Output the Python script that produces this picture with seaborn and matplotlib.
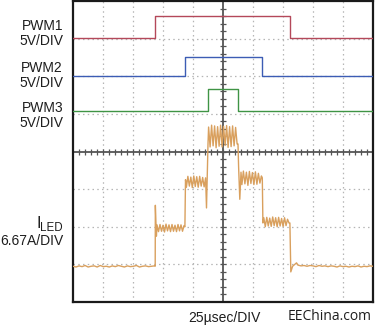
import numpy as np
import pandas as pd
import matplotlib
matplotlib.use("Agg")
import matplotlib.pyplot as plt
import seaborn as sns

# ---------------- data (in graticule divisions) ----------------
pwm1_t = [0.0, 2.74, 2.74, 7.23, 7.23, 10.0]
pwm1_v = [7.01, 7.01, 7.61, 7.61, 7.01, 7.01]
pwm2_t = [0.0, 3.73, 3.73, 6.31, 6.31, 10.0]
pwm2_v = [6.00, 6.00, 6.51, 6.51, 6.00, 6.00]
pwm3_t = [0.0, 4.49, 4.49, 5.49, 5.49, 10.0]
pwm3_v = [5.08, 5.08, 5.65, 5.65, 5.08, 5.08]

# I_LED: sampled segments (start, end, values) and edge points between them
iled_base_pre = [0.95, 0.93, 0.96, 0.94, 0.97, 0.93, 0.95, 0.96, 0.93, 0.97, 0.94, 0.95, 0.93, 0.96,
                 0.94, 0.97, 0.95, 0.93, 0.96, 0.94, 0.95, 0.97, 0.93, 0.95, 0.96, 0.94, 0.95, 0.96]
iled_step1 = [2.05, 1.87, 2.06, 1.88, 2.04, 1.86, 2.07, 1.89, 2.05, 1.87, 2.06, 1.88, 2.04, 1.87,
              2.06, 1.89, 2.05, 1.88, 2.03]
iled_step2 = [3.05, 3.34, 3.08, 3.32, 3.04, 3.35, 3.07, 3.33, 3.05, 3.34, 3.08, 3.31, 3.06, 3.30]
iled_top = [4.65, 4.12, 4.70, 4.15, 4.68, 4.10, 4.66, 4.14, 4.70, 4.12, 4.67, 4.16, 4.69, 4.11,
            4.66, 4.13, 4.68, 4.15, 4.64, 4.20]
iled_step3 = [3.12, 3.48, 3.14, 3.45, 3.10, 3.47, 3.15, 3.44, 3.12, 3.46, 3.13, 3.42, 3.16, 3.35]
iled_step4 = [2.24, 2.00, 2.25, 2.02, 2.23, 2.01, 2.26, 2.03, 2.24, 2.00, 2.25, 2.02, 2.22, 2.01,
              2.24, 2.03, 2.20, 2.10]
iled_base_post = [0.98, 0.96, 0.97, 0.95, 0.97, 0.96, 0.94, 0.97, 0.95, 0.96, 0.94, 0.96, 0.95,
                  0.93, 0.96, 0.94, 0.95, 0.93, 0.95, 0.94, 0.96, 0.93, 0.95, 0.94, 0.96, 0.95]
iled_spans = [(0.0, 2.72), (2.80, 3.70), (3.78, 4.42), (4.52, 5.47), (5.63, 6.28), (6.36, 7.20), (7.50, 10.0)]
iled_edges_t = [[2.74, 2.745, 2.78], [3.73, 3.75], [4.45, 4.50], [5.50, 5.52, 5.56, 5.60],
                [6.31, 6.33], [7.23, 7.26, 7.32, 7.45]]
iled_edges_v = [[0.95, 2.57, 1.75], [2.00, 3.25], [2.50, 4.20], [4.20, 3.60, 2.73, 3.45],
                [3.30, 2.10], [2.10, 0.80, 0.95, 1.04]]

labels = ["PWM1", "PWM2", "PWM3"]
div_labels = ["5V/DIV", "5V/DIV", "5V/DIV"]
iled_main, iled_sub = "I", "LED"
iled_label = "6.67A/DIV"
x_label = "25\u00b5sec/DIV"
credit = "EEChina.com"

# ---------------- build tables ----------------
segs = [iled_base_pre, iled_step1, iled_step2, iled_top, iled_step3, iled_step4, iled_base_post]
it, iv = [], []
for k, (seg, (t0, t1)) in enumerate(zip(segs, iled_spans)):
    it += list(np.linspace(t0, t1, len(seg)))
    iv += seg
    if k < len(iled_edges_t):
        it += iled_edges_t[k]
        iv += iled_edges_v[k]

frames = []
for name, t, v in [("PWM1", pwm1_t, pwm1_v), ("PWM2", pwm2_t, pwm2_v),
                   ("PWM3", pwm3_t, pwm3_v), ("ILED", it, iv)]:
    frames.append(pd.DataFrame({"t": t, "v": v, "trace": name}))
df = pd.concat(frames, ignore_index=True)

palette = {"PWM1": "#b4485a", "PWM2": "#3c5cb4", "PWM3": "#3f9445", "ILED": "#d9a05e"}

# ---------------- figure ----------------
sns.set_style("white")
plt.rcParams["font.family"] = ["Liberation Sans", "DejaVu Sans"]

W, H = 375, 329
fig = plt.figure(figsize=(W / 100, H / 100), dpi=100)
ax = fig.add_axes([73 / W, 27 / H, 300 / W, 301 / H])
ax.set_xlim(0, 10)
ax.set_ylim(0, 8)

grid_c = "#b5b5b5"
for x in range(1, 10):
    if x != 5:
        ax.axvline(x, color=grid_c, lw=0.9, ls=(0, (1.2, 2.6)), zorder=1)
for y in range(1, 8):
    if y != 4:
        ax.axhline(y, color=grid_c, lw=0.9, ls=(0, (1.2, 2.6)), zorder=1)
ax.axvline(5, color="#555555", lw=1.3, zorder=1)
ax.axhline(4, color="#555555", lw=1.3, zorder=1)
tx = np.arange(0.2, 10, 0.2)
ax.plot(tx, np.full_like(tx, 4.0), ls="none", marker="|", ms=4, mew=0.9, color="#555555", zorder=1)
ty = np.arange(0.2, 8, 0.2)
ax.plot(np.full_like(ty, 5.0), ty, ls="none", marker="_", ms=4, mew=0.9, color="#555555", zorder=1)

for name in ["PWM1", "PWM2", "PWM3", "ILED"]:
    sub = df[df.trace == name]
    sns.lineplot(data=sub, x="t", y="v", sort=False, estimator=None, color=palette[name],
                 lw=1.0, ax=ax, legend=False, zorder=3)

ax.set_xticks([])
ax.set_yticks([])
ax.set_xlabel("")
ax.set_ylabel("")
for s in ax.spines.values():
    s.set_color("#1a1a1a")
    s.set_linewidth(1.6)

tc = "#1e1e1e"
fs = 10.0
def ftxt(xp, yp, s, size=fs, **kw):
    fig.text(xp / W, 1 - yp / H, s, color=tc, fontsize=size, va="baseline", **kw)

for lab, dl, (b1, b2) in zip(labels, div_labels, [(30, 45), (72, 87), (112, 127)]):
    ftxt(63, b1, lab, ha="right")
    ftxt(63, b2, dl, ha="right")
ftxt(40.5, 228, iled_main, ha="right", size=11.5)
ftxt(63, 231, iled_sub, ha="right", size=8.3)
ftxt(63, 245, iled_label, ha="right")
ftxt(224, 322, x_label, ha="center")
fig.text(330 / W, 1 - 320 / H, credit, color=tc, fontsize=10, va="baseline", ha="center",
         family=["Open Sans", "DejaVu Sans"])

fig.savefig("out.png", dpi=100)
